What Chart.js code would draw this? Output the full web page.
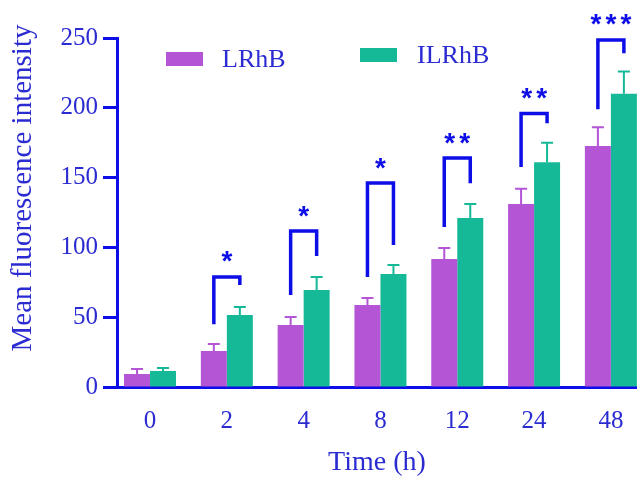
<!DOCTYPE html>
<html>
<head>
<meta charset="utf-8">
<script src="https://cdn.jsdelivr.net/npm/chart.js@4.4.1/dist/chart.umd.min.js"></script>
<style>
  html, body { margin: 0; padding: 0; background: #fff; overflow: hidden; }
</style>
</head>
<body>
<canvas id="chart" width="637" height="477"></canvas>
<script>
const timeLabels = ['0', '2', '4', '8', '12', '24', '48'];
const lrhb = [9.3, 25.8, 44.4, 58.7, 91.7, 131, 172.6];
const lrhbErr = [3.6, 5, 5.7, 5.1, 7.9, 11, 13.4];
const ilrhb = [11.5, 51.6, 69.5, 80.9, 121, 161, 210];
const ilrhbErr = [2.1, 5.7, 9.3, 6.5, 10, 14, 16];
// significance brackets, in y units
const sigLabels = [null, '*', '*', '*', '**', '**', '***'];
const sigTop = [null, 78.8, 111.7, 146.1, 164, 196, 248.6];
const sigLeftEnd = [null, 45, 65.9, 78.8, 114.6, 157.6, 199];
const sigRightEnd = [null, 73, 93.8, 101.7, 146, 189, 239];

const axisBlue = '#0d0de8';
const textBlue = '#2b2bd2';
const serif = "'Liberation Serif', 'Times New Roman', serif";

const errorBars = {
    id: 'errorBars',
    afterDatasetsDraw(chart) {
        const ctx = chart.ctx;
        const y = chart.scales.y;
        chart.data.datasets.forEach((ds, di) => {
            const meta = chart.getDatasetMeta(di);
            meta.data.forEach((bar, i) => {
                const top = y.getPixelForValue(ds.data[i].y + ds.errors[i]);
                ctx.save();
                ctx.strokeStyle = ds.backgroundColor;
                ctx.lineWidth = 2;
                ctx.beginPath();
                ctx.moveTo(bar.x, bar.y);
                ctx.lineTo(bar.x, top);
                ctx.moveTo(bar.x - 6, top);
                ctx.lineTo(bar.x + 6, top);
                ctx.stroke();
                ctx.restore();
            });
        });
    }
};

const brackets = {
    id: 'brackets',
    afterDatasetsDraw(chart) {
        const ctx = chart.ctx;
        const y = chart.scales.y;
        const a = chart.getDatasetMeta(0).data;
        const b = chart.getDatasetMeta(1).data;
        sigLabels.forEach((lab, i) => {
            if (!lab) return;
            const lx = a[i].x, rx = b[i].x;
            const ty = y.getPixelForValue(sigTop[i]);
            ctx.save();
            ctx.strokeStyle = axisBlue;
            ctx.lineWidth = 3.5;
            ctx.lineJoin = 'miter';
            ctx.beginPath();
            ctx.moveTo(lx, y.getPixelForValue(sigLeftEnd[i]));
            ctx.lineTo(lx, ty);
            ctx.lineTo(rx, ty);
            ctx.lineTo(rx, y.getPixelForValue(sigRightEnd[i]));
            ctx.stroke();
            ctx.fillStyle = axisBlue;
            ctx.font = "bold 28px 'Liberation Sans', Arial, sans-serif";
            ctx.textAlign = 'center';
            ctx.textBaseline = 'alphabetic';
            const m = ctx.measureText('*');
            const cy = ty - 20 + (m.actualBoundingBoxAscent - m.actualBoundingBoxDescent) / 2;
            const step = 15;
            const cx = (lx + rx) / 2;
            for (let k = 0; k < lab.length; k++) {
                ctx.fillText(lab[k], cx + (k - (lab.length - 1) / 2) * step, cy);
            }
            ctx.restore();
        });
    }
};

const sideText = {
    id: 'sideText',
    afterDraw(chart) {
        const ctx = chart.ctx;
        ctx.save();
        ctx.fillStyle = textBlue;
        ctx.font = '29px ' + serif;
        ctx.textAlign = 'center';
        ctx.textBaseline = 'middle';
        ctx.translate(23, 188);
        ctx.rotate(-Math.PI / 2);
        ctx.fillText('Mean fluorescence intensity', 0, 0);
        ctx.restore();

        // legend inside the plot
        const items = [[166, 52, 222, 60], [360, 48, 417, 56]];
        chart.data.datasets.forEach((ds, i) => {
            const [bx, by, tx, ty] = items[i];
            ctx.save();
            ctx.fillStyle = ds.backgroundColor;
            ctx.fillRect(bx, by, 37, 14);
            ctx.fillStyle = textBlue;
            ctx.font = '26px ' + serif;
            ctx.textBaseline = 'middle';
            ctx.fillText(ds.label, tx, ty);
            ctx.restore();
        });
    }
};

const toPoints = arr => arr.map((v, i) => ({x: i, y: v}));

new Chart(document.getElementById('chart'), {
    type: 'bar',
    data: {
        datasets: [
            {label: 'LRhB', data: toPoints(lrhb), errors: lrhbErr, backgroundColor: '#b455d6'},
            {label: 'ILRhB', data: toPoints(ilrhb), errors: ilrhbErr, backgroundColor: '#15b997'}
        ]
    },
    options: {
        responsive: false,
        animation: false,
        layout: {padding: {top: 38, left: 0, right: 0, bottom: 0}},
        datasets: {bar: {categoryPercentage: 0.677, barPercentage: 1}},
        plugins: {legend: {display: false}, tooltip: {enabled: false}},
        scales: {
            x: {
                type: 'linear',
                offset: false,
                min: -0.43,
                max: 6.34,
                grid: {display: false, offset: false},
                border: {color: axisBlue, width: 3},
                afterBuildTicks: s => { s.ticks = timeLabels.map((t, i) => ({value: i})); },
                ticks: {
                    callback: v => timeLabels[v],
                    color: textBlue,
                    font: {family: serif, size: 25},
                    padding: 11,
                    maxRotation: 0
                },
                title: {
                    display: true,
                    text: 'Time (h)',
                    color: textBlue,
                    font: {family: serif, size: 28, lineHeight: 1},
                    padding: {top: 0, bottom: 0}
                },
                afterFit: s => { s.height = 90; s.paddingRight = 0; }
            },
            y: {
                min: 0,
                max: 250,
                ticks: {stepSize: 50, color: textBlue, font: {family: serif, size: 25}, padding: 5},
                grid: {drawOnChartArea: false, drawTicks: true, tickLength: 14, tickWidth: 3, color: axisBlue},
                border: {color: axisBlue, width: 3},
                afterFit: s => { s.width = 117; }
            }
        }
    },
    plugins: [errorBars, brackets, sideText]
});
</script>
</body>
</html>
